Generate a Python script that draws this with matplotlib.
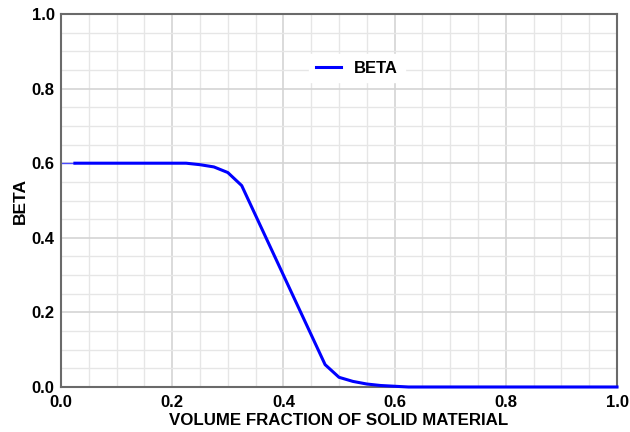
import matplotlib
matplotlib.use("Agg")
import matplotlib.pyplot as plt
from matplotlib.ticker import MultipleLocator

# volume fraction of solid material vs beta
vol_frac = [0.025, 0.05, 0.1, 0.15, 0.2, 0.225, 0.25, 0.275, 0.3, 0.325,
            0.35, 0.375, 0.4, 0.425, 0.45, 0.475, 0.5, 0.525, 0.55,
            0.575, 0.6, 0.625, 0.7, 0.8, 0.9, 1.0]
beta = [0.6, 0.6, 0.6, 0.6, 0.6, 0.6, 0.596, 0.59, 0.575, 0.54,
        0.46, 0.38, 0.30, 0.22, 0.14, 0.06, 0.026, 0.015, 0.008,
        0.004, 0.002, 0.0, 0.0, 0.0, 0.0, 0.0]

plt.rcParams['font.family'] = ['Liberation Sans', 'DejaVu Sans']
plt.rcParams['font.weight'] = 'bold'

fig = plt.figure(figsize=(6.3, 4.32), dpi=100)
ax = fig.add_axes([61 / 630, 45 / 432, 556 / 630, 373 / 432])

# thin lead-in segment at the left edge
ax.plot([0.0, 0.025], [0.6, 0.6], color='#4a4aff', lw=1.0)
ax.plot(vol_frac, beta, color='#0000ff', lw=2.2, label='BETA', clip_on=False, zorder=3)

ax.set_xlim(0, 1)
ax.set_ylim(0, 1)
ax.xaxis.set_major_locator(MultipleLocator(0.2))
ax.yaxis.set_major_locator(MultipleLocator(0.2))
ax.xaxis.set_minor_locator(MultipleLocator(0.05))
ax.yaxis.set_minor_locator(MultipleLocator(0.05))
ax.grid(which='major', color='#d4d4d4', lw=1.2)
ax.grid(which='minor', color='#e6e6e6', lw=1.0)
ax.set_axisbelow(True)
ax.tick_params(which='both', length=0, labelsize=12)
ax.tick_params(axis='x', pad=6)
ax.tick_params(axis='y', pad=4.5)
for lab in ax.get_xticklabels() + ax.get_yticklabels():
    lab.set_fontweight('bold')

for sp in ax.spines.values():
    sp.set_color('#6a6a6a')
    sp.set_linewidth(1.5)

ax.set_xlabel('VOLUME FRACTION OF SOLID MATERIAL', fontsize=12.2, fontweight='bold', labelpad=2)
ax.set_ylabel('BETA', fontsize=12.5, fontweight='bold', labelpad=3)

leg = ax.legend(loc='center', bbox_to_anchor=(0.532, 0.855), frameon=True,
                fancybox=False, edgecolor='white', framealpha=1.0,
                prop={'weight': 'bold', 'size': 12}, handlelength=1.5)

fig.savefig('out.png', dpi=100)
